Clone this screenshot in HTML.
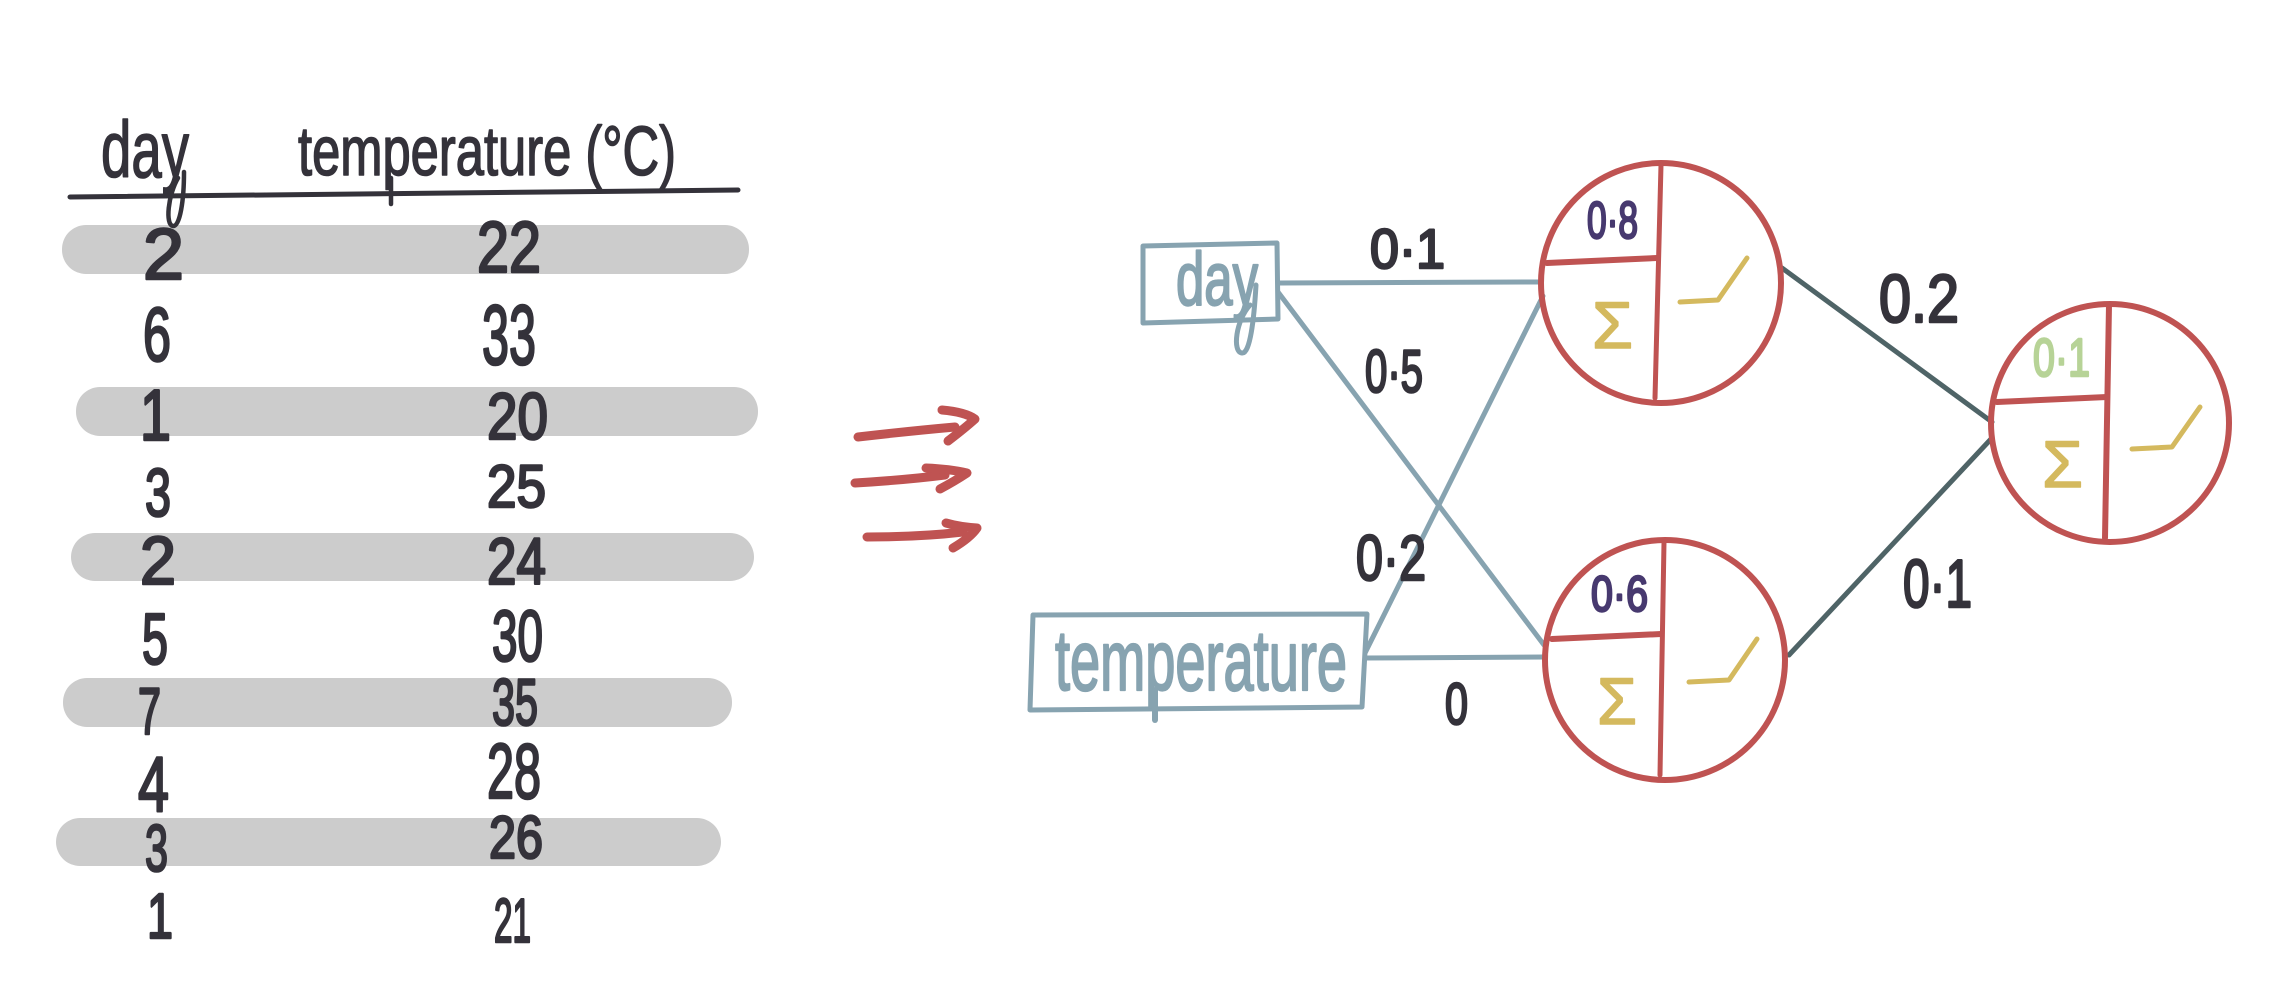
<!DOCTYPE html>
<html>
<head>
<meta charset="utf-8">
<style>
html,body{margin:0;padding:0;background:#fff;width:2292px;height:1000px;overflow:hidden}
svg{display:block}
text{font-family:"Liberation Sans",sans-serif;stroke-linejoin:round;paint-order:stroke}
.k{fill:#34323a;stroke:#34323a;stroke-width:2.6}
.h{fill:#34323a;stroke:#34323a;stroke-width:1.6}
.b{fill:#87a3b0;stroke:#87a3b0;stroke-width:2.2}
.p{fill:#47396f;stroke:#47396f;stroke-width:2.5}
.g{fill:#b7d397;stroke:#b7d397;stroke-width:2.5}
.s{fill:#d4b95e;stroke:#d4b95e;stroke-width:1.5}
.l{fill:none;stroke-linecap:round;stroke-linejoin:round}
</style>
</head>
<body>
<svg width="2292" height="1000" viewBox="0 0 2292 1000" xmlns="http://www.w3.org/2000/svg">
<rect width="2292" height="1000" fill="#fff"/>

<!-- table bars -->
<g fill="#cccccc">
<rect x="62" y="225" width="687" height="49" rx="24"/>
<rect x="76" y="387" width="682" height="49" rx="24"/>
<rect x="71" y="533" width="683" height="48" rx="24"/>
<rect x="63" y="678" width="669" height="49" rx="24"/>
<rect x="56" y="818" width="665" height="48" rx="24"/>
</g>

<!-- table header -->
<text class="h" x="101" y="177" font-size="80" textLength="88" lengthAdjust="spacingAndGlyphs">day</text>
<text class="h" x="298" y="175" font-size="70" textLength="378" lengthAdjust="spacingAndGlyphs">temperature (°C)</text>
<line class="l" x1="70" y1="197" x2="738" y2="190" stroke="#34323a" stroke-width="5"/>
<path class="l" d="M184 172 C184 200 180 227 173 226 C165 225 168 195 178 178" stroke="#34323a" stroke-width="4.5"/>
<line class="l" x1="391" y1="178" x2="391" y2="204" stroke="#34323a" stroke-width="4.5"/>

<!-- day column -->
<g class="k">
<text x="143" y="279" font-size="72" textLength="41" lengthAdjust="spacingAndGlyphs">2</text>
<text x="143" y="361" font-size="76" textLength="28" lengthAdjust="spacingAndGlyphs">6</text>
<text x="140" y="440" font-size="72" textLength="31" lengthAdjust="spacingAndGlyphs">1</text>
<text x="145" y="516" font-size="68" textLength="26" lengthAdjust="spacingAndGlyphs">3</text>
<text x="140" y="584" font-size="68" textLength="36" lengthAdjust="spacingAndGlyphs">2</text>
<text x="142" y="664" font-size="72" textLength="26" lengthAdjust="spacingAndGlyphs">5</text>
<text x="138" y="734" font-size="66" textLength="23" lengthAdjust="spacingAndGlyphs">7</text>
<text x="138" y="811" font-size="78" textLength="31" lengthAdjust="spacingAndGlyphs">4</text>
<text x="145" y="871" font-size="66" textLength="23" lengthAdjust="spacingAndGlyphs">3</text>
<text x="147" y="938" font-size="64" textLength="26" lengthAdjust="spacingAndGlyphs">1</text>
</g>

<!-- temperature column -->
<g class="k">
<text x="477" y="272" font-size="72" textLength="64" lengthAdjust="spacingAndGlyphs">22</text>
<text x="482" y="364" font-size="84" textLength="54" lengthAdjust="spacingAndGlyphs">33</text>
<text x="487" y="439" font-size="66" textLength="61" lengthAdjust="spacingAndGlyphs">20</text>
<text x="487" y="507" font-size="60" textLength="59" lengthAdjust="spacingAndGlyphs">25</text>
<text x="487" y="584" font-size="66" textLength="59" lengthAdjust="spacingAndGlyphs">24</text>
<text x="492" y="661" font-size="72" textLength="51" lengthAdjust="spacingAndGlyphs">30</text>
<text x="492" y="725" font-size="66" textLength="46" lengthAdjust="spacingAndGlyphs">35</text>
<text x="487" y="798" font-size="78" textLength="54" lengthAdjust="spacingAndGlyphs">28</text>
<text x="489" y="858" font-size="60" textLength="54" lengthAdjust="spacingAndGlyphs">26</text>
<text x="494" y="942" font-size="62" textLength="37" lengthAdjust="spacingAndGlyphs">21</text>
</g>

<!-- red arrows -->
<g class="l" stroke="#bf5352" stroke-width="9">
<path d="M858 437 Q910 431 955 427"/>
<path d="M942 410 Q965 412 975 419 Q965 428 948 441"/>
<path d="M855 483 Q905 480 945 475"/>
<path d="M926 468 Q950 469 967 473 Q955 481 940 489"/>
<path d="M867 537 Q920 537 963 532"/>
<path d="M946 523 Q960 527 977 528 Q970 538 953 548"/>
</g>

<!-- input boxes -->
<g class="l" stroke="#87a3b0" stroke-width="5">
<path d="M1143 246 L1277 243 L1278 319 L1143 323 Z"/>
<path d="M1033 615 L1367 614 L1362 707 L1030 710 Z"/>
<!-- connectors from inputs -->
<line x1="1280" y1="283" x2="1540" y2="282"/>
<line x1="1278" y1="292" x2="1544" y2="645"/>
<line x1="1543" y1="296" x2="1365" y2="653"/>
<line x1="1365" y1="658" x2="1544" y2="657"/>
</g>
<text class="b" x="1176" y="305" font-size="75" textLength="82" lengthAdjust="spacingAndGlyphs">day</text>
<path class="l" d="M1256 285 C1254 320 1250 354 1242 353 C1232 352 1236 320 1250 305" stroke="#87a3b0" stroke-width="5"/>
<text class="b" x="1055" y="690" font-size="85" textLength="292" lengthAdjust="spacingAndGlyphs">temperature</text>
<line class="l" x1="1155" y1="690" x2="1155" y2="720" stroke="#87a3b0" stroke-width="6"/>

<!-- connectors to output -->
<g class="l" stroke="#4f6467" stroke-width="5">
<line x1="1782" y1="268" x2="1992" y2="422"/>
<line x1="1789" y1="655" x2="1991" y2="439"/>
</g>

<!-- neurons -->
<g class="l" stroke="#bf5352" stroke-width="6">
<circle cx="1661" cy="283" r="120"/>
<line x1="1661" y1="165" x2="1655" y2="398" stroke-width="5"/>
<line x1="1547" y1="263" x2="1657" y2="258"/>
<circle cx="1665" cy="660" r="120"/>
<line x1="1664" y1="542" x2="1660" y2="775" stroke-width="5"/>
<line x1="1552" y1="639" x2="1661" y2="634"/>
<circle cx="2110" cy="423" r="119"/>
<line x1="2109" y1="305" x2="2105" y2="538"/>
<line x1="1997" y1="402" x2="2107" y2="397"/>
</g>

<!-- ramps -->
<g class="l" stroke="#d4b95e" stroke-width="5">
<polyline points="1680,302 1718,300 1747,258"/>
<polyline points="1689,682 1729,680 1757,639"/>
<polyline points="2132,449 2172,447 2200,407"/>
</g>

<!-- sigma -->
<g class="s">
<text x="1592" y="348" font-size="66" textLength="41" lengthAdjust="spacingAndGlyphs">Σ</text>
<text x="1597" y="724" font-size="66" textLength="40" lengthAdjust="spacingAndGlyphs">Σ</text>
<text x="2042" y="487" font-size="66" textLength="41" lengthAdjust="spacingAndGlyphs">Σ</text>
</g>

<!-- neuron values -->
<text class="p" x="1587" y="238" font-size="52" textLength="51" lengthAdjust="spacingAndGlyphs">0·8</text>
<text class="p" x="1591" y="611" font-size="50" textLength="57" lengthAdjust="spacingAndGlyphs">0·6</text>
<text class="g" x="2033" y="376" font-size="54" textLength="57" lengthAdjust="spacingAndGlyphs">0·1</text>

<!-- weights -->
<g class="k">
<text x="1370" y="268" font-size="56" textLength="75" lengthAdjust="spacingAndGlyphs">0·1</text>
<text x="1365" y="392" font-size="60" textLength="58" lengthAdjust="spacingAndGlyphs">0·5</text>
<text x="1356" y="580" font-size="64" textLength="70" lengthAdjust="spacingAndGlyphs">0·2</text>
<text x="1445" y="724" font-size="58" textLength="23" lengthAdjust="spacingAndGlyphs">0</text>
<text x="1879" y="322" font-size="68" textLength="80" lengthAdjust="spacingAndGlyphs">0.2</text>
<text x="1903" y="607" font-size="68" textLength="69" lengthAdjust="spacingAndGlyphs">0·1</text>
</g>
</svg>
</body>
</html>
